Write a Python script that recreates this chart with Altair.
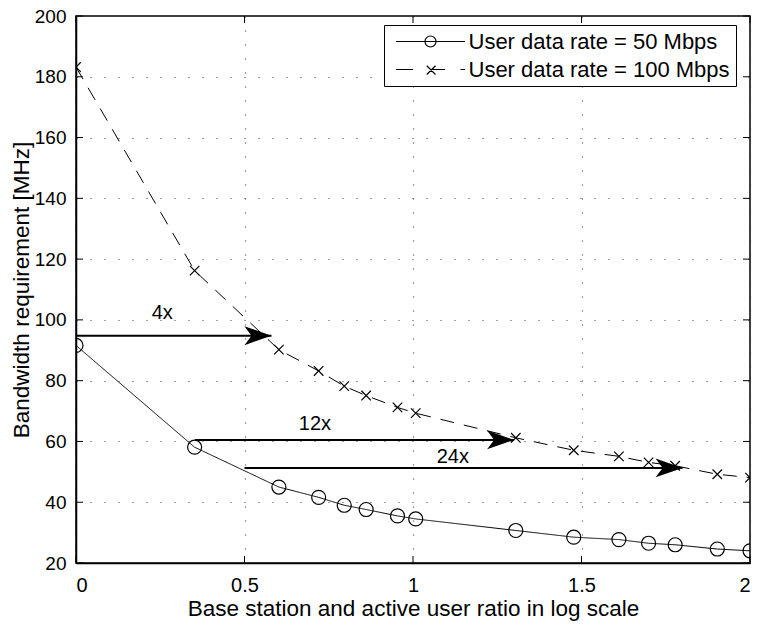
import altair as alt
import pandas as pd

# ---------------- data ----------------
x_ratio = [0.0, 0.352, 0.602, 0.72, 0.796, 0.861, 0.954, 1.008, 1.305, 1.477,
           1.611, 1.699, 1.778, 1.903, 2.0]
bw_50 = [91.6, 58.1, 45.0, 41.6, 39.0, 37.6, 35.5, 34.5, 30.7, 28.5,
         27.7, 26.5, 26.0, 24.6, 24.0]
bw_100 = [183.2, 116.2, 90.2, 83.2, 78.2, 75.1, 71.2, 69.3, 61.2, 57.1,
          55.1, 53.1, 52.0, 49.2, 48.1]
series_names = ["User data rate = 50 Mbps", "User data rate = 100 Mbps"]

x_ticks = [0, 0.5, 1, 1.5, 2]
y_ticks = [20, 40, 60, 80, 100, 120, 140, 160, 180, 200]

arrow_from = [0.0, 0.353, 0.5]
arrow_to = [0.58, 1.30, 1.80]
arrow_y = [94.8, 60.5, 51.3]
arrow_text = ["4x", "12x", "24x"]
text_x = [0.256, 0.709, 1.118]
text_y = [102.4, 65.6, 54.8]

XTITLE = "Base station and active user ratio in log scale"
YTITLE = "Bandwidth requirement [MHz]"
FONT = "Liberation Sans, Arial, Helvetica, sans-serif"

rows = []
for name, vals in zip(series_names, [bw_50, bw_100]):
    for xv, yv in zip(x_ratio, vals):
        rows.append({"ratio": xv, "bw": yv, "series": name})
df = pd.DataFrame(rows)

arrows = pd.DataFrame({"x0": arrow_from, "x1": arrow_to, "y": arrow_y,
                       "label": arrow_text, "tx": text_x, "ty": text_y})
xt = pd.DataFrame({"t": x_ticks})
yt = pd.DataFrame({"t": y_ticks})

W, H = 674, 547
xs = alt.Scale(domain=[0, 2], nice=False, zero=False)
ys = alt.Scale(domain=[20, 200], nice=False, zero=False)
x_axis = alt.Axis(values=x_ticks, format="~g", grid=True, ticks=False,
                  labelPadding=12, labelFontSize=20,
                  titleY=52, titleBaseline="alphabetic")
y_axis = alt.Axis(values=y_ticks, format="d", grid=True, ticks=False,
                  labelPadding=10, labelFontSize=19,
                  titleX=-48, titleY=H / 2, titleAngle=-90,
                  titleAlign="center", titleBaseline="alphabetic")


def X(f):
    return alt.X(f, type="quantitative", scale=xs, axis=x_axis, title=XTITLE)


def Y(f):
    return alt.Y(f, type="quantitative", scale=ys, axis=y_axis, title=YTITLE)


CROSS = "M -0.68 -0.68 L 0.68 0.68 M -0.68 0.68 L 0.68 -0.68"
LEG50 = "M -6.9 0 L 6.9 0 M 1.1 0 A 1.1 1.1 0 1 1 -1.1 0 A 1.1 1.1 0 1 1 1.1 0"
LEG100 = ("M -6.9 0 L -3.5 0 M 0.2 0 L 2.9 0 M 6.0 0 L 6.9 0 "
          "M -0.75 -0.75 L 1.0 1.0 M -0.75 1.0 L 1.0 -0.75")
ARROW = "M 0 0 L -1 -0.35 L -0.74 0 L -1 0.35 Z"

lines = alt.Chart(df).mark_line(color="black", strokeWidth=1).encode(
    x=X("ratio"), y=Y("bw"),
    strokeDash=alt.StrokeDash("series:N", scale=alt.Scale(domain=series_names, range=[[1, 0], [14, 10]]), legend=None),
)

points = alt.Chart(df).mark_point(filled=False, color="black", strokeWidth=1.2, size=196, opacity=1, clip=True).encode(
    x=X("ratio"), y=Y("bw"),
    shape=alt.Shape("series:N", scale=alt.Scale(domain=series_names, range=["circle", CROSS]), legend=None),
)

legend_layer = alt.Chart(df).mark_point(filled=False, color="black", strokeWidth=1.2, opacity=0).encode(
    x=X("ratio"), y=Y("bw"),
    shape=alt.Shape("series:N", scale=alt.Scale(domain=series_names, range=[LEG50, LEG100]),
                    legend=alt.Legend(orient="none", legendX=308, legendY=9, title=None,
                                      labelFont=FONT, labelFontSize=22, labelColor="black", labelLimit=0,
                                      symbolSize=100, symbolStrokeWidth=1.2, symbolStrokeColor="black",
                                      symbolFillColor="transparent", symbolOpacity=1,
                                      symbolOffset=30, labelOffset=27, rowPadding=6, padding=5.5,
                                      strokeColor="black", fillColor="white", cornerRadius=0)),
)

arrow_lines = alt.Chart(arrows).mark_rule(color="black", strokeWidth=2).encode(
    x=X("x0"), x2="x1", y=Y("y"))
arrow_heads = alt.Chart(arrows).mark_point(shape=ARROW, size=2916, filled=True, color="black",
                                           opacity=1, strokeWidth=0).encode(x=X("x1"), y=Y("y"))
arrow_labels = alt.Chart(arrows).mark_text(font=FONT, fontSize=20, color="black").encode(
    x=X("tx"), y=Y("ty"), text="label:N")

tick_b = alt.Chart(xt).mark_rule(color="black", strokeWidth=1).encode(x=X("t"), y=alt.value(H), y2=alt.value(H - 7))
tick_t = alt.Chart(xt).mark_rule(color="black", strokeWidth=1).encode(x=X("t"), y=alt.value(0), y2=alt.value(7))
tick_l = alt.Chart(yt).mark_rule(color="black", strokeWidth=1).encode(y=Y("t"), x=alt.value(0), x2=alt.value(7))
tick_r = alt.Chart(yt).mark_rule(color="black", strokeWidth=1).encode(y=Y("t"), x=alt.value(W), x2=alt.value(W - 7))

chart = alt.layer(
    lines, points, legend_layer, arrow_lines, arrow_heads, arrow_labels,
    tick_b, tick_t, tick_l, tick_r,
).resolve_scale(shape="independent").properties(
    width=W, height=H,
    autosize=alt.AutoSizeParams(type="none"),
    padding={"left": 68, "top": 8, "right": 4, "bottom": 59},
    background="white",
).configure_view(
    stroke="black", strokeWidth=1.5,
).configure_axis(
    domainColor="black", domainWidth=1.5,
    gridColor="#444444", gridDash=[1, 13], gridWidth=1.2, gridOpacity=1,
    labelFont=FONT, labelColor="black",
    titleFont=FONT, titleFontSize=22.5, titleFontWeight="normal", titleColor="black",
)

chart.save("out.html", embed_options={"renderer": "svg", "actions": False})
